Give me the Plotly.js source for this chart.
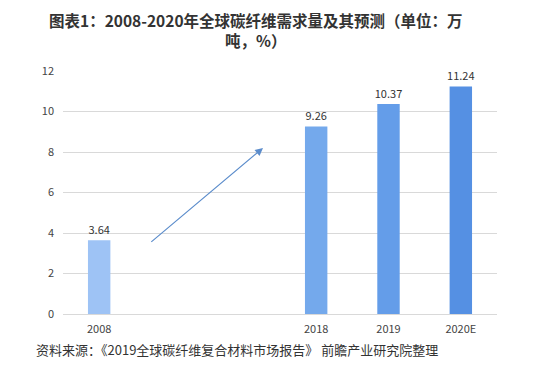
<!DOCTYPE html>
<html>
<head>
<meta charset="utf-8">
<script src="https://cdn.plot.ly/plotly-3.0.1.min.js"></script>
<style>html,body{margin:0;padding:0;background:#fff;}#chart{width:538px;height:383px;}</style>
</head>
<body>
<div id="chart"></div>
<script>
// Data
const categories = ['2008', ' ', '  ', '2018', '2019', '2020E'];
const barYears = ['2008', '2018', '2019', '2020E'];
const demand = [3.64, 9.26, 10.37, 11.24];
const barColors = ['#9ec3f5', '#74a9ec', '#649de9', '#5590e3'];
const yTicks = [0, 2, 4, 6, 8, 10, 12];

const titleText = '图表1：2008-2020年全球碳纤维需求量及其预测（单位：万<br>吨，%）';
const sourceText = '资料来源：《2019全球碳纤维复合材料市场报告》 前瞻产业研究院整理';

const font = '"Noto Sans CJK SC", "Noto Sans", sans-serif';

const trace = {
  type: 'bar',
  x: barYears,
  y: demand,
  marker: {color: barColors},
  width: 0.31,
  text: demand.map(v => v.toFixed(2)),
  textposition: 'outside',
  constraintext: 'none',
  textfont: {family: font, size: 11, color: '#333'},
  cliponaxis: false,
  hoverinfo: 'skip'
};

const layout = {
  width: 538, height: 383,
  margin: {l: 63, r: 41, t: 71, b: 69},
  paper_bgcolor: '#fff', plot_bgcolor: '#fff',
  showlegend: false,
  bargap: 0.69,
  uniformtext: {mode: false},
  font: {family: font, color: '#444', size: 11},
  xaxis: {
    type: 'category',
    categoryorder: 'array',
    categoryarray: categories,
    tickvals: categories,
    ticktext: categories,
    range: [-0.5, categories.length - 0.5],
    showgrid: false,
    zeroline: false,
    showline: false,
    ticks: '',
    ticklabelstandoff: 7,
    tickfont: {family: font, size: 11, color: '#444'},
    fixedrange: true
  },
  yaxis: {
    range: [0, 12],
    tickvals: yTicks,
    showgrid: true,
    gridcolor: '#d9d9d9',
    gridwidth: 1,
    zeroline: true,
    zerolinecolor: '#d9d9d9',
    zerolinewidth: 1,
    showline: false,
    ticks: '',
    ticklabelstandoff: 8,
    tickfont: {family: font, size: 11, color: '#444'},
    fixedrange: true
  },
  annotations: [
    {
      xref: 'paper', yref: 'paper',
      x: (256 - 63) / 434, y: 1 + (71 - 30) / 243,
      xanchor: 'center', yanchor: 'middle',
      text: '<b>' + titleText + '</b>',
      showarrow: false,
      font: {family: font, size: 15.5, color: '#333'},
      align: 'center'
    },
    {
      xref: 'paper', yref: 'paper',
      x: (34 - 63) / 434, y: -(349 - 314) / 243,
      xanchor: 'left', yanchor: 'middle',
      text: sourceText,
      showarrow: false,
      font: {family: font, size: 13, color: '#333'}
    },
    {
      xref: 'x', yref: 'y', axref: 'x', ayref: 'y',
      x: 2.265, y: 8.2, ax: 0.70, ay: 3.5,
      text: '',
      showarrow: true,
      arrowhead: 2, arrowsize: 1.3, arrowwidth: 1.2,
      arrowcolor: '#5b8ccb'
    }
  ]
};

Plotly.newPlot('chart', [trace], layout, {displayModeBar: false, staticPlot: true});
</script>
</body>
</html>
